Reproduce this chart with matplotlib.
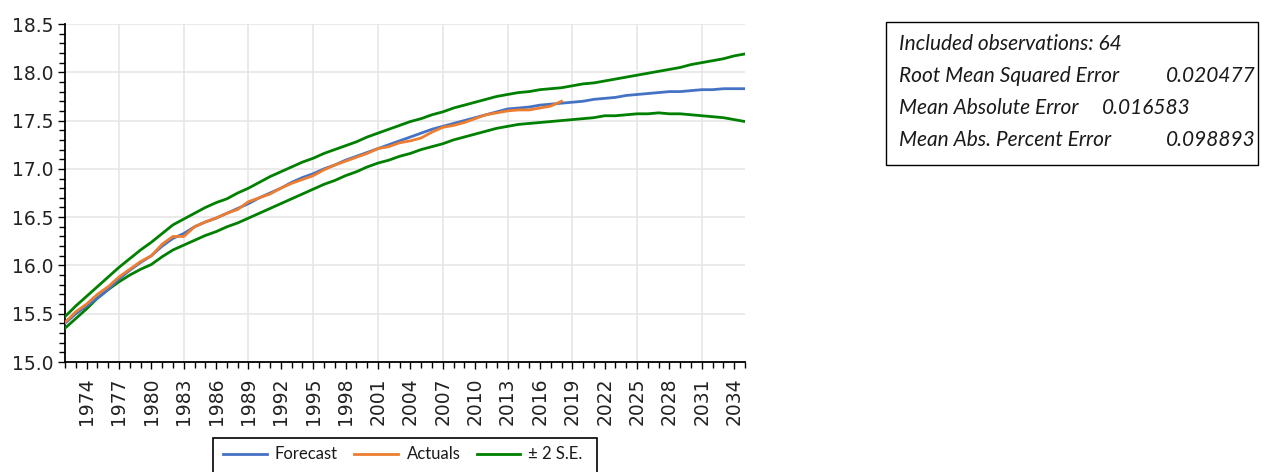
import matplotlib
matplotlib.use("Agg")
import matplotlib.pyplot as plt
from matplotlib.lines import Line2D
from matplotlib.patches import Rectangle
from matplotlib.ticker import MultipleLocator, FixedLocator, FormatStrFormatter
import numpy as np

years = list(range(1972, 2036))

forecast = [15.40, 15.50, 15.58, 15.66, 15.75, 15.86, 15.95, 16.03, 16.10, 16.20,
            16.28, 16.33, 16.40, 16.45, 16.49, 16.54, 16.59, 16.64, 16.70, 16.75,
            16.80, 16.86, 16.91, 16.95, 17.00, 17.04, 17.09, 17.13, 17.17, 17.21,
            17.25, 17.29, 17.33, 17.37, 17.41, 17.44, 17.47, 17.50, 17.53, 17.56,
            17.59, 17.62, 17.63, 17.64, 17.66, 17.67, 17.68, 17.69, 17.70, 17.72,
            17.73, 17.74, 17.76, 17.77, 17.78, 17.79, 17.80, 17.80, 17.81, 17.82,
            17.82, 17.83, 17.83, 17.83]

actual_years = list(range(1972, 2019))
actuals = [15.41, 15.52, 15.60, 15.70, 15.78, 15.88, 15.96, 16.04, 16.10, 16.22,
           16.30, 16.30, 16.40, 16.45, 16.49, 16.54, 16.58, 16.66, 16.70, 16.74,
           16.80, 16.85, 16.89, 16.93, 16.99, 17.04, 17.08, 17.12, 17.16, 17.21,
           17.23, 17.27, 17.29, 17.32, 17.38, 17.43, 17.45, 17.48, 17.52, 17.56,
           17.58, 17.60, 17.61, 17.61, 17.63, 17.65, 17.70]

upper = [15.47, 15.58, 15.68, 15.78, 15.88, 15.98, 16.07, 16.16, 16.24, 16.33,
         16.42, 16.48, 16.54, 16.60, 16.65, 16.69, 16.75, 16.80, 16.86, 16.92,
         16.97, 17.02, 17.07, 17.11, 17.16, 17.20, 17.24, 17.28, 17.33, 17.37,
         17.41, 17.45, 17.49, 17.52, 17.56, 17.59, 17.63, 17.66, 17.69, 17.72,
         17.75, 17.77, 17.79, 17.80, 17.82, 17.83, 17.84, 17.86, 17.88, 17.89,
         17.91, 17.93, 17.95, 17.97, 17.99, 18.01, 18.03, 18.05, 18.08, 18.10,
         18.12, 18.14, 18.17, 18.19]

lower = [15.35, 15.45, 15.55, 15.66, 15.75, 15.83, 15.90, 15.96, 16.01, 16.09,
         16.16, 16.21, 16.26, 16.31, 16.35, 16.40, 16.44, 16.49, 16.54, 16.59,
         16.64, 16.69, 16.74, 16.79, 16.84, 16.88, 16.93, 16.97, 17.02, 17.06,
         17.09, 17.13, 17.16, 17.20, 17.23, 17.26, 17.30, 17.33, 17.36, 17.39,
         17.42, 17.44, 17.46, 17.47, 17.48, 17.49, 17.50, 17.51, 17.52, 17.53,
         17.55, 17.55, 17.56, 17.57, 17.57, 17.58, 17.57, 17.57, 17.56, 17.55,
         17.54, 17.53, 17.51, 17.49]

stats_labels = ["Root Mean Squared Error", "Mean Absolute Error", "Mean Abs. Percent Error"]
stats_values = ["0.020477", "0.016583", "0.098893"]
n_obs = 64

legend_labels = ["Forecast", "Actuals", "\u00b1 2 S.E."]

C_BLUE = "#4472C4"
C_ORANGE = "#ED7D31"
C_GREEN = "#008000"

W, H = 1267, 472
fig = plt.figure(figsize=(W / 100, H / 100), dpi=100)
ax = fig.add_axes([65 / W, 1 - 362 / H, (745 - 65) / W, (362 - 24) / H])

lw = 2.0
ax.plot(years, upper, color=C_GREEN, lw=lw, zorder=3)
ax.plot(years, lower, color=C_GREEN, lw=lw, zorder=3)
ax.plot(years, forecast, color=C_BLUE, lw=lw, zorder=4)
ax.plot(actual_years, actuals, color=C_ORANGE, lw=lw, zorder=5)

ax.set_xlim(1972, 2035)
ax.set_ylim(15.0, 18.5)

ax.yaxis.set_major_locator(MultipleLocator(0.5))
ax.yaxis.set_minor_locator(MultipleLocator(0.1))
ax.yaxis.set_major_formatter(FormatStrFormatter("%.1f"))

label_years = list(range(1974, 2036, 3))
ax.xaxis.set_major_locator(FixedLocator(label_years))
ax.xaxis.set_minor_locator(FixedLocator(years))
ax.set_xticklabels([str(y) for y in label_years], rotation=90)

for gy in np.arange(15.5, 18.51, 0.5):
    ax.axhline(gy, color="#e6e6e6", lw=1.2, zorder=1)
for gx in range(1977, 2035, 6):
    ax.axvline(gx, color="#e6e6e6", lw=1.2, zorder=1)

for s in ["top", "right"]:
    ax.spines[s].set_visible(False)
for s in ["left", "bottom"]:
    ax.spines[s].set_color("black")
    ax.spines[s].set_linewidth(1.3)

ax.tick_params(axis="both", which="major", direction="out", length=5, width=1,
               colors="black", labelcolor="#222222", labelsize=13.5)
ax.tick_params(axis="both", which="minor", direction="out", length=4, width=1, colors="black")
ax.tick_params(axis="x", which="major", pad=6)
ax.tick_params(axis="y", which="major", pad=3)
for t in ax.get_xticklabels() + ax.get_yticklabels():
    t.set_family("DejaVu Sans")

# Legend (boxed, cut off at figure bottom)
fig.patches.append(Rectangle((213 / W, -0.1), (597 - 213) / W, 0.1 + 1 - 438 / H,
                             transform=fig.transFigure, fill=False, edgecolor="black",
                             lw=1.2, clip_on=False))
ly = 1 - 454 / H
items = [(223, 267, 275, C_BLUE), (354, 398, 407, C_ORANGE), (477, 520, 528, C_GREEN)]
for (x0, x1, xt, c), lab in zip(items, legend_labels):
    fig.lines.append(Line2D([x0 / W, x1 / W], [ly, ly], transform=fig.transFigure,
                            color=c, lw=2))
    fig.text(xt / W, ly, lab, fontsize=12, family="Lato", va="center", ha="left",
             color="#1a1a1a")

# Statistics box
fig.patches.append(Rectangle((886 / W, 1 - 165 / H), (1258 - 886) / W, (165 - 22) / H,
                             transform=fig.transFigure, fill=False, edgecolor="black", lw=1.0))
rows_y = [44, 76, 108, 140]
FS = 15
fig.text(899 / W, 1 - rows_y[0] / H, f"Included observations: {n_obs}", fontsize=FS,
         family="Lato", style="italic", va="center", ha="left", color="#1a1a1a")
val_x = [(1256, "right"), (1102, "left"), (1256, "right")]
for lab, val, yy, (vx, ha) in zip(stats_labels, stats_values, rows_y[1:], val_x):
    fig.text(899 / W, 1 - yy / H, lab, fontsize=FS, family="Lato", style="italic",
             va="center", ha="left", color="#1a1a1a")
    fig.text(vx / W, 1 - yy / H, val, fontsize=FS, family="Lato", style="italic",
             va="center", ha=ha, color="#1a1a1a")

fig.savefig("out.png", dpi=100)
